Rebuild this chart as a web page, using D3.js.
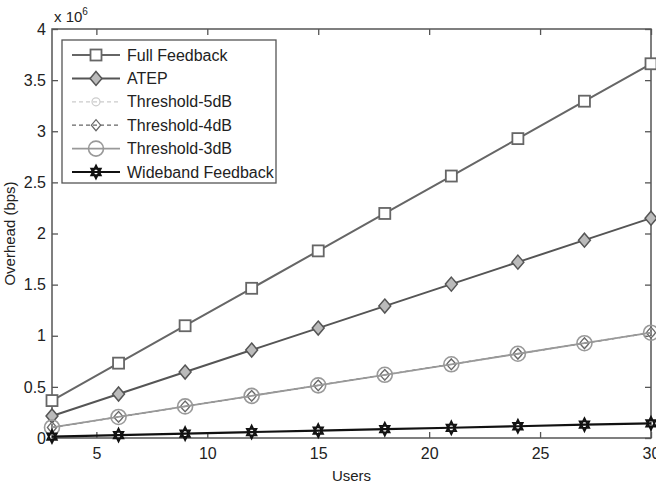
<!DOCTYPE html>
<html>
<head>
<meta charset="utf-8">
<script src="https://cdn.jsdelivr.net/npm/d3@7"></script>
<style>
  body { margin: 0; background: #fff; }
  text { font-family: "Liberation Sans", Arial, sans-serif; }
</style>
</head>
<body>
<script>
// data (overhead in units of 1e6 bps)
const users = [3, 6, 9, 12, 15, 18, 21, 24, 27, 30];
const fullFeedback = [0.366, 0.732, 1.098, 1.464, 1.83, 2.196, 2.562, 2.928, 3.294, 3.66];
const atep = [0.215, 0.43, 0.645, 0.86, 1.075, 1.29, 1.505, 1.72, 1.935, 2.15];
const thr5 = [0.103, 0.206, 0.309, 0.412, 0.515, 0.618, 0.721, 0.824, 0.927, 1.03];
const thr4 = [0.103, 0.206, 0.309, 0.412, 0.515, 0.618, 0.721, 0.824, 0.927, 1.03];
const thr3 = [0.103, 0.206, 0.309, 0.412, 0.515, 0.618, 0.721, 0.824, 0.927, 1.03];
const wideband = [0.014, 0.029, 0.043, 0.058, 0.072, 0.086, 0.1, 0.115, 0.13, 0.144];
const xTicks = [5, 10, 15, 20, 25, 30];
const yTicks = [0, 0.5, 1, 1.5, 2, 2.5, 3, 3.5, 4];

const series = [
  { name: 'Full Feedback', vals: fullFeedback, color: '#666', width: 2, dash: null, marker: 'square', size: 5.5, fill: 'none', mw: 1.8 },
  { name: 'ATEP', vals: atep, color: '#555', width: 2, dash: null, marker: 'diamond', size: 7, fill: '#bbb', mw: 1.5 },
  { name: 'Threshold-5dB', vals: thr5, color: '#ccc', width: 1.2, dash: '4,3', marker: 'circle', size: 4, fill: 'none', mw: 1.2 },
  { name: 'Threshold-4dB', vals: thr4, color: '#666', width: 1.2, dash: '4,3', marker: 'diamond', size: 5.5, fill: 'none', mw: 1.2 },
  { name: 'Threshold-3dB', vals: thr3, color: '#999', width: 1.8, dash: null, marker: 'circle', size: 7.5, fill: 'none', mw: 1.6 },
  { name: 'Wideband Feedback', vals: wideband, color: '#111', width: 2.2, dash: null, marker: 'hex', size: 6.5, fill: 'none', mw: 1.8 }
];

const W = 656, H = 486;
const margin = { left: 52, right: 5, top: 29, bottom: 48 };

const svg = d3.select('body').append('svg')
  .attr('width', W)
  .attr('height', H);

const x = d3.scaleLinear().domain([3, 30]).range([margin.left, W - margin.right]);
const y = d3.scaleLinear().domain([0, 4]).range([H - margin.bottom, margin.top]);

const axisColor = '#555';

// box
svg.append('rect')
  .attr('x', x(3)).attr('y', y(4))
  .attr('width', x(30) - x(3)).attr('height', y(0) - y(4))
  .attr('fill', 'none').attr('stroke', axisColor).attr('stroke-width', 1.5);

// ticks pointing inward
const gx = svg.append('g').attr('transform', `translate(0,${y(0)})`)
  .call(d3.axisBottom(x).tickValues(xTicks).tickSize(-6).tickPadding(10));
const gxTop = svg.append('g').attr('transform', `translate(0,${y(4)})`)
  .call(d3.axisTop(x).tickValues(xTicks).tickSize(-6).tickFormat(''));
const gy = svg.append('g').attr('transform', `translate(${x(3)},0)`)
  .call(d3.axisLeft(y).tickValues(yTicks).tickSize(-6).tickPadding(6).tickFormat(d3.format('')));
const gyR = svg.append('g').attr('transform', `translate(${x(30)},0)`)
  .call(d3.axisRight(y).tickValues(yTicks).tickSize(-6).tickFormat(''));

[gx, gxTop, gy, gyR].forEach(g => {
  g.select('.domain').remove();
  g.selectAll('line').attr('stroke', axisColor).attr('stroke-width', 1.3);
  g.selectAll('text').attr('fill', '#222').style('font-size', '16px');
});

svg.append('text')
  .attr('x', 54).attr('y', 22)
  .style('font-size', '15px').attr('fill', '#222')
  .text('x 10')
  .append('tspan').attr('dy', -7).style('font-size', '10px').text('6');

svg.append('text')
  .attr('x', (x(3) + x(30)) / 2).attr('y', H - 5)
  .attr('text-anchor', 'middle')
  .style('font-size', '15px').attr('fill', '#222')
  .text('Users');

svg.append('text')
  .attr('transform', `translate(15,${(y(0) + y(4)) / 2}) rotate(-90)`)
  .attr('text-anchor', 'middle')
  .style('font-size', '15px').attr('fill', '#222')
  .text('Overhead (bps)');

function drawMarker(g, s, cx, cy) {
  const r = s.size;
  if (s.marker === 'square') {
    g.append('rect').attr('x', cx - r).attr('y', cy - r)
      .attr('width', 2 * r).attr('height', 2 * r)
      .attr('fill', '#fff').attr('stroke', s.color).attr('stroke-width', s.mw);
  } else if (s.marker === 'diamond') {
    g.append('path')
      .attr('d', `M${cx},${cy - r}L${cx + r * 0.85},${cy}L${cx},${cy + r}L${cx - r * 0.85},${cy}Z`)
      .attr('fill', s.fill).attr('stroke', s.color).attr('stroke-width', s.mw);
  } else if (s.marker === 'circle') {
    g.append('circle').attr('cx', cx).attr('cy', cy).attr('r', r)
      .attr('fill', 'none').attr('stroke', s.color).attr('stroke-width', s.mw);
  } else if (s.marker === 'hex') {
    const tri = a => d3.range(3).map(i => {
      const t = a + i * 2 * Math.PI / 3;
      return [cx + r * 0.85 * Math.cos(t), cy + r * Math.sin(t)];
    });
    const p1 = tri(-Math.PI / 2), p2 = tri(Math.PI / 2);
    g.append('path').attr('d', 'M' + p1.join('L') + 'Z M' + p2.join('L') + 'Z')
      .attr('fill', 'none').attr('stroke', s.color).attr('stroke-width', s.mw);
  }
}

const line = d3.line().x((d, i) => x(users[i])).y(d => y(d));

series.forEach(s => {
  const g = svg.append('g');
  g.append('path').datum(s.vals)
    .attr('d', line)
    .attr('fill', 'none')
    .attr('stroke', s.color)
    .attr('stroke-width', s.width)
    .attr('stroke-dasharray', s.dash);
  s.vals.forEach((v, i) => drawMarker(g, s, x(users[i]), y(v)));
});

// legend
const lg = svg.append('g');
lg.append('rect')
  .attr('x', 62).attr('y', 40).attr('width', 214).attr('height', 143)
  .attr('fill', '#fff').attr('stroke', axisColor).attr('stroke-width', 1.3);
series.forEach((s, i) => {
  const ly = 55 + i * 23.4;
  lg.append('line')
    .attr('x1', 72).attr('x2', 120).attr('y1', ly).attr('y2', ly)
    .attr('stroke', s.color).attr('stroke-width', s.width)
    .attr('stroke-dasharray', s.dash);
  drawMarker(lg, s, 96, ly);
  lg.append('text')
    .attr('x', 127).attr('y', ly + 5.5)
    .style('font-size', '16px').attr('fill', '#222')
    .text(s.name);
});
</script>
</body>
</html>
